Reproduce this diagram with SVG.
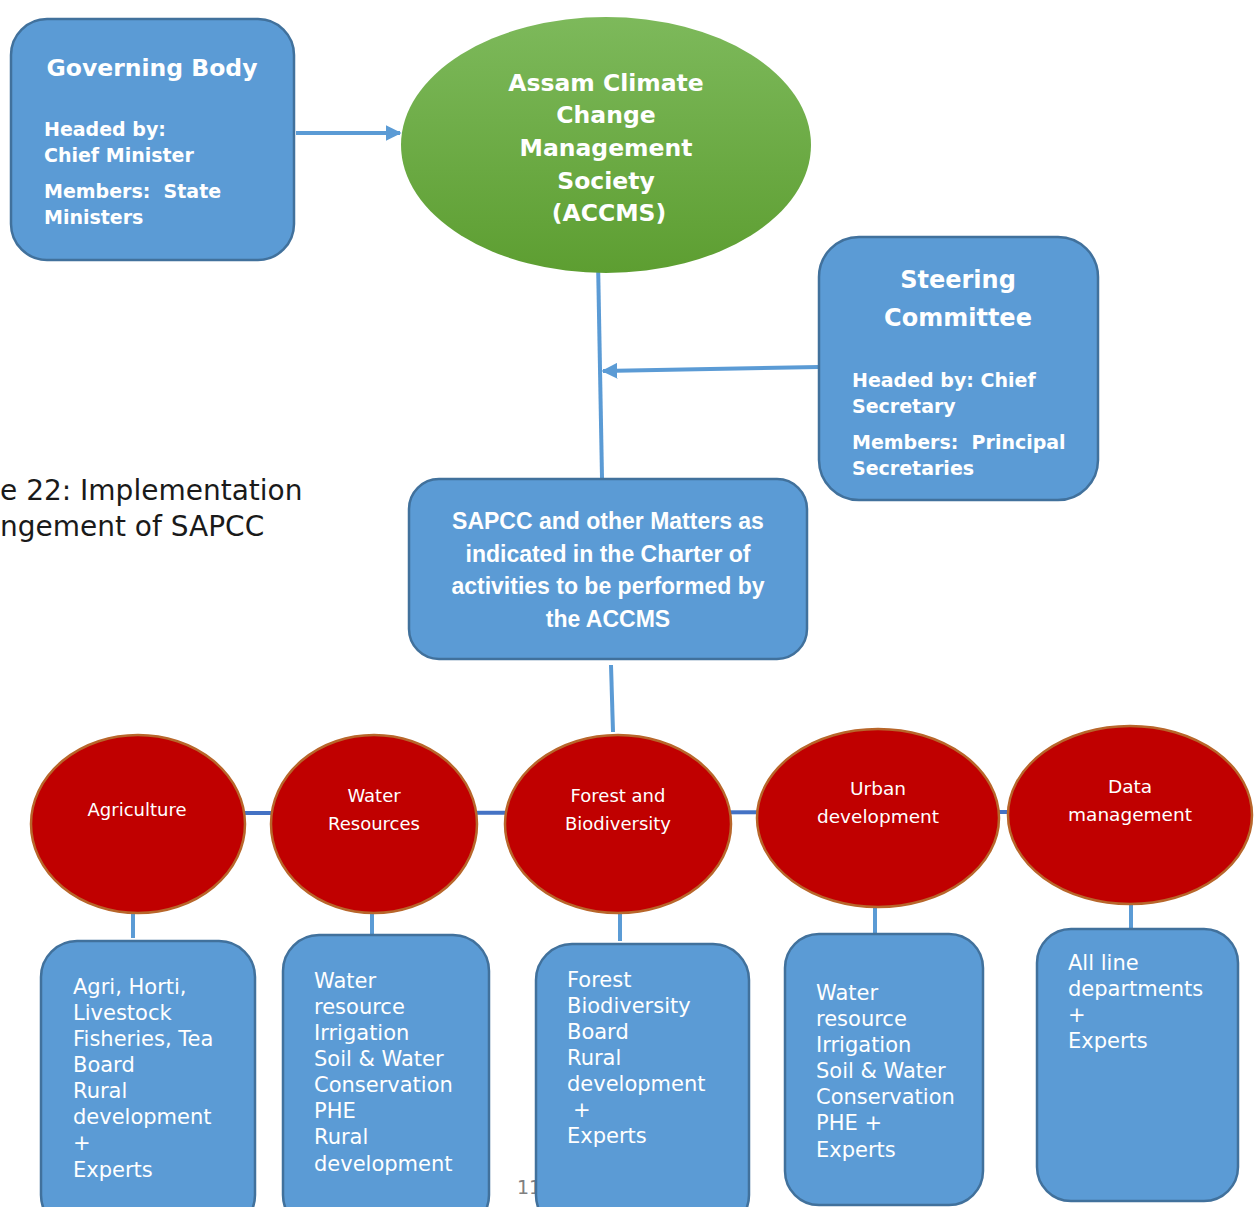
<svg xmlns="http://www.w3.org/2000/svg" width="1259" height="1207" viewBox="0 0 1259 1207">
<defs>
<linearGradient id="green" x1="0" y1="0" x2="0" y2="1">
<stop offset="0" stop-color="#7db95b"/>
<stop offset="1" stop-color="#5d9e31"/>
</linearGradient>
<marker id="arr" viewBox="0 0 10 10" refX="9" refY="5" markerWidth="4" markerHeight="4" markerUnits="strokeWidth" orient="auto">
<path d="M0,0 L10,5 L0,10 z" fill="#5b9bd5"/>
</marker>
</defs>
<style>
.box{fill:#5b9bd5;stroke:#41719c;stroke-width:2.5}
.red{fill:#c00000;stroke:#b8662a;stroke-width:2.5}
.conn{stroke:#5b9bd5;stroke-width:4;fill:none}
.hconn{stroke:#4472c4;stroke-width:4;fill:none}
.hb{font-family:"DejaVu Sans",sans-serif;font-weight:bold;fill:#fff}
.cal{font-family:"Liberation Sans",sans-serif;font-weight:bold;fill:#fff;font-size:23px;text-anchor:middle}
.cg{font-family:"DejaVu Sans",sans-serif;fill:#fff}
.cap{font-family:"DejaVu Sans",sans-serif;fill:#1a1a1a;font-size:28px}
</style>
<rect width="1259" height="1207" fill="#fff"/>

<text class="cap" x="0" y="500">e 22: Implementation</text>
<text class="cap" x="0" y="536">ngement of SAPCC</text>
<text x="517" y="1194" font-family="DejaVu Sans,sans-serif" font-size="19" fill="#808080">11</text>

<g id="connectors">
<line class="conn" x1="296" y1="133" x2="400" y2="133" marker-end="url(#arr)"/>
<line class="conn" x1="598" y1="260" x2="602" y2="478"/>
<line class="conn" x1="819" y1="367" x2="603" y2="371" marker-end="url(#arr)"/>
<line class="conn" x1="611" y1="665" x2="613" y2="732"/>
<line class="hconn" x1="240" y1="813" x2="1012" y2="812"/>
<line class="conn" x1="133" y1="910" x2="133" y2="938"/>
<line class="conn" x1="372" y1="910" x2="372" y2="936"/>
<line class="conn" x1="620" y1="914" x2="620" y2="941"/>
<line class="conn" x1="875" y1="905" x2="875" y2="934"/>
<line class="conn" x1="1131" y1="902" x2="1131" y2="930"/>
</g>

<g id="governing-body">
<rect class="box" x="11" y="19" width="283" height="241" rx="36"/>
<text class="hb" x="152" y="76" font-size="23.5" text-anchor="middle">Governing Body</text>
<text class="hb" font-size="19"><tspan x="44" y="136">Headed by:</tspan><tspan x="44" y="162">Chief Minister</tspan><tspan x="44" y="198">Members:&#160; State</tspan><tspan x="44" y="224">Ministers</tspan></text>
</g>

<g id="accms">
<ellipse cx="606" cy="145" rx="205" ry="128" fill="url(#green)"/>
<text class="hb" font-size="23.5" text-anchor="middle"><tspan x="606" y="91">Assam Climate</tspan><tspan x="606" y="123">Change</tspan><tspan x="606" y="156">Management</tspan><tspan x="606" y="189">Society</tspan><tspan x="609" y="221">(ACCMS)</tspan></text>
</g>

<g id="steering-committee">
<rect class="box" x="819" y="237" width="279" height="263" rx="40"/>
<text class="hb" font-size="24" text-anchor="middle"><tspan x="958" y="288">Steering</tspan><tspan x="958" y="326">Committee</tspan></text>
<text class="hb" font-size="19"><tspan x="852" y="387">Headed by: Chief</tspan><tspan x="852" y="413">Secretary</tspan><tspan x="852" y="449">Members:&#160; Principal</tspan><tspan x="852" y="475">Secretaries</tspan></text>
</g>

<g id="sapcc">
<rect class="box" x="409" y="479" width="398" height="180" rx="30"/>
<text class="cal"><tspan x="608" y="529">SAPCC and other Matters as</tspan><tspan x="608" y="562">indicated in the Charter of</tspan><tspan x="608" y="594">activities to be performed by</tspan><tspan x="608" y="627">the ACCMS</tspan></text>
</g>

<g id="agriculture">
<ellipse class="red" cx="138" cy="824" rx="107" ry="89"/>
<text class="cg" font-size="18" text-anchor="middle" x="137" y="816">Agriculture</text>
</g>
<g id="water-resources">
<ellipse class="red" cx="374" cy="824" rx="103" ry="89"/>
<text class="cg" font-size="18" text-anchor="middle"><tspan x="374" y="802">Water</tspan><tspan x="374" y="830">Resources</tspan></text>
</g>
<g id="forest-biodiversity">
<ellipse class="red" cx="618" cy="824" rx="113" ry="89"/>
<text class="cg" font-size="18" text-anchor="middle"><tspan x="618" y="802">Forest and</tspan><tspan x="618" y="830">Biodiversity</tspan></text>
</g>
<g id="urban-development">
<ellipse class="red" cx="878" cy="818" rx="121" ry="89"/>
<text class="cg" font-size="18.5" text-anchor="middle"><tspan x="878" y="795">Urban</tspan><tspan x="878" y="823">development</tspan></text>
</g>
<g id="data-management">
<ellipse class="red" cx="1130" cy="815" rx="122" ry="89"/>
<text class="cg" font-size="18.5" text-anchor="middle"><tspan x="1130" y="793">Data</tspan><tspan x="1130" y="821">management</tspan></text>
</g>

<g id="box-agriculture">
<rect class="box" x="41" y="941" width="214" height="290" rx="36"/>
<text class="cg" font-size="21"><tspan x="73" y="994">Agri, Horti,</tspan><tspan x="73" y="1020">Livestock</tspan><tspan x="73" y="1046">Fisheries, Tea</tspan><tspan x="73" y="1072">Board</tspan><tspan x="73" y="1098">Rural</tspan><tspan x="73" y="1124">development</tspan><tspan x="73" y="1150">+</tspan><tspan x="73" y="1177">Experts</tspan></text>
</g>
<g id="box-water">
<rect class="box" x="283" y="935" width="206" height="296" rx="36"/>
<text class="cg" font-size="21"><tspan x="314" y="988">Water</tspan><tspan x="314" y="1014">resource</tspan><tspan x="314" y="1040">Irrigation</tspan><tspan x="314" y="1066">Soil &amp; Water</tspan><tspan x="314" y="1092">Conservation</tspan><tspan x="314" y="1118">PHE</tspan><tspan x="314" y="1144">Rural</tspan><tspan x="314" y="1171">development</tspan></text>
</g>
<g id="box-forest">
<rect class="box" x="536" y="944" width="213" height="287" rx="36"/>
<text class="cg" font-size="21"><tspan x="567" y="987">Forest</tspan><tspan x="567" y="1013">Biodiversity</tspan><tspan x="567" y="1039">Board</tspan><tspan x="567" y="1065">Rural</tspan><tspan x="567" y="1091">development</tspan><tspan x="573" y="1117">+</tspan><tspan x="567" y="1143">Experts</tspan></text>
</g>
<g id="box-urban">
<rect class="box" x="785" y="934" width="198" height="271" rx="34"/>
<text class="cg" font-size="21"><tspan x="816" y="1000">Water</tspan><tspan x="816" y="1026">resource</tspan><tspan x="816" y="1052">Irrigation</tspan><tspan x="816" y="1078">Soil &amp; Water</tspan><tspan x="816" y="1104">Conservation</tspan><tspan x="816" y="1130">PHE +</tspan><tspan x="816" y="1157">Experts</tspan></text>
</g>
<g id="box-data">
<rect class="box" x="1037" y="929" width="201" height="272" rx="34"/>
<text class="cg" font-size="21"><tspan x="1068" y="970">All line</tspan><tspan x="1068" y="996">departments</tspan><tspan x="1068" y="1022">+</tspan><tspan x="1068" y="1048">Experts</tspan></text>
</g>
</svg>
